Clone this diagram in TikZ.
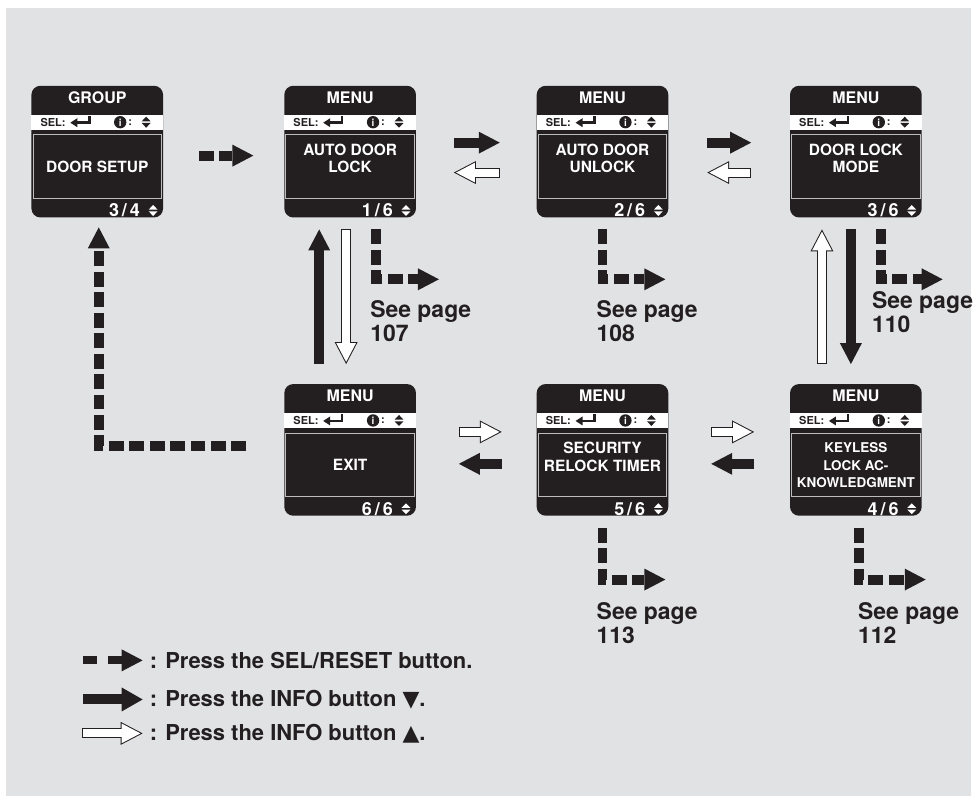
\documentclass[tikz,border=0pt]{standalone}
\usepackage{fontspec}
\setmainfont{TeX Gyre Heros}
\newfontfamily\symfont{DejaVu Sans}
\usetikzlibrary{arrows.meta}
\definecolor{panel}{HTML}{E1E2E4}
\definecolor{ink}{HTML}{231F20}

\begin{document}
\begin{tikzpicture}[
    x=1pt, y=-1pt,
    font=\bfseries,
    screen/.style={fill=ink, rounded corners=9pt, minimum width=132pt, minimum height=132pt, inner sep=0pt, outer sep=0pt},
    titletext/.style={text=white, font=\fontsize{16}{18}\selectfont\bfseries, inner sep=0pt},
    seltext/.style={text=ink, font=\fontsize{11}{12}\selectfont\bfseries, inner sep=0pt},
    infoi/.style={text=white, font=\fontsize{10}{10}\selectfont\bfseries, inner sep=0pt},
    pagetext/.style={text=white, font=\fontsize{18}{20}\selectfont\bfseries, inner sep=0pt},
    bodytext/.style={text=white, align=center, font=\fontsize{15.5}{17.5}\selectfont\bfseries, inner sep=0pt},
    frame/.style={draw=white!70!ink, line width=0.8pt},
    seepage/.style={text=ink, align=left, font=\fontsize{23}{24}\selectfont\bfseries, inner sep=0pt},
    keytext/.style={text=ink, font=\fontsize{22}{22}\selectfont\bfseries, inner sep=0pt},
    gap/.style 2 args={shorten <=#1, shorten >=#2},
    infodn/.style={draw=ink, line width=10pt, -{Triangle[length=21pt, width=22pt, line width=0pt]}},
    infoup/.style 2 args={draw=white, line width=8pt, shorten <=#1+1pt, shorten >=#2+2.2pt,
        -{Triangle[length=18.8pt, width=19.7pt, line width=0pt]},
        preaction={draw=ink, line width=10pt, shorten <=#1, shorten >=#2, -{Triangle[length=22pt, width=23pt, line width=0pt]}}},
    selarrow/.style={draw=ink, line width=10pt, dash pattern=on 15pt off 5.5pt, -{Triangle[length=21pt, width=22pt, line width=0pt]}},
    updn/.pic={
        \fill (-4.5,-0.8) -- (4.5,-0.8) -- (0,-5.5) -- cycle;
        \fill (-4.5,0.8) -- (4.5,0.8) -- (0,5.5) -- cycle;
    }
]

% Background
\fill[white] (0,0) rectangle (973,798);
\fill[panel] (6,8) rectangle (973,798);

% Screens
\node[screen] (group) at (97.5,152) {};
\node[screen] (lock) at (351,152) {};
\node[screen] (unlock) at (604,152) {};
\node[screen] (mode) at (858,152) {};
\node[screen] (exit) at (351,451) {};
\node[screen] (relock) at (604,451) {};
\node[screen] (keyless) at (858,451) {};

% Screen bars
\foreach \nm/\ttl/\pg/\pgs in {group/GROUP/3/4, lock/MENU/1/6, unlock/MENU/2/6, mode/MENU/3/6,
                               keyless/MENU/4/6, relock/MENU/5/6, exit/MENU/6/6} {
    \begin{scope}[shift={(\nm.north west)}]
        \fill[white] (0,29) rectangle (132,44);
        \draw[frame] (1.5,49) rectangle (130.5,112.5);
        \node[titletext] (\nm-title) at (66,12) {\ttl};
        \node[seltext, anchor=west] (\nm-sel) at (9,37) {SEL:};
        \fill[ink] (39,37) -- (46,32.5) -- (46,41.5) -- cycle;
        \draw[ink, line width=2.6pt] (45,37) -| (58,30.5);
        \fill[ink] (89,36.5) circle (6.2);
        \node[infoi] (\nm-info) at (89,36.8) {i};
        \node[seltext] (\nm-colon) at (99,36.5) {:};
        \pic[ink] at (115,36.5) {updn};
        \node[pagetext, anchor=east] (\nm-page) at (109,125) {\pg\,/\,\pgs};
        \pic[white] at (122,125) {updn};
    \end{scope}
}

% Screen texts
\node[bodytext] (group-txt) at ([yshift=-81pt]group.north) {DOOR SETUP};
\node[bodytext] (lock-txt) at ([yshift=-73pt]lock.north) {AUTO DOOR\\LOCK};
\node[bodytext] (unlock-txt) at ([yshift=-73pt]unlock.north) {AUTO DOOR\\UNLOCK};
\node[bodytext] (mode-txt) at ([yshift=-73pt]mode.north) {DOOR LOCK\\MODE};
\node[bodytext, font=\fontsize{13.5}{17.5}\selectfont\bfseries] (keyless-txt) at ([yshift=-81.5pt]keyless.north) {KEYLESS\\LOCK AC-\\KNOWLEDGMENT};
\node[bodytext] (relock-txt) at ([yshift=-73pt]relock.north) {SECURITY\\RELOCK TIMER};
\node[bodytext] (exit-txt) at ([yshift=-81pt]exit.north) {EXIT};

% See page
\node[seepage, anchor=north west] (see107) at (371,301) {See page\\107};
\node[seepage, anchor=north west] (see108) at (598,301) {See page\\108};
\node[seepage, anchor=north west] (see110) at (874,292) {See page\\110};
\node[seepage, anchor=north west] (see113) at (598,604) {See page\\113};
\node[seepage, anchor=north west] (see112) at (860,604) {See page\\112};

\coordinate (p107) at (440,280);
\coordinate (p108) at (667,280);
\coordinate (p110) at (945,280);
\coordinate (p113) at (667,581);
\coordinate (p112) at (928,581);

% SEL/RESET arrows
\draw[selarrow, gap={36pt}{31pt}] ([yshift=-4pt]group.east) -- ([yshift=-4pt]lock.west);
\draw[selarrow] ([xshift=-38pt, yshift=4pt]exit.west) -| ([xshift=1.5pt, yshift=-10pt]group.south);
\draw[selarrow] ([xshift=26pt, yshift=-12pt]lock.south) |- (p107);
\draw[selarrow] ([yshift=-12pt]unlock.south) |- (p108);
\draw[selarrow] ([xshift=25pt, yshift=-12pt]mode.south) |- (p110);
\draw[selarrow] ([yshift=-12pt]relock.south) |- (p113);
\draw[selarrow] ([xshift=3pt, yshift=-12pt]keyless.south) |- (p112);

% INFO arrows
\draw[infodn, gap={38pt}{37pt}] ([yshift=9pt]lock.east) -- ([yshift=9pt]unlock.west);
\draw[infoup={37pt}{38pt}] ([yshift=-21pt]unlock.west) -- ([yshift=-21pt]lock.east);
\draw[infodn, gap={39pt}{39pt}] ([yshift=9pt]unlock.east) -- ([yshift=9pt]mode.west);
\draw[infoup={39pt}{39pt}] ([yshift=-21pt]mode.west) -- ([yshift=-21pt]unlock.east);
\draw[infodn, gap={12pt}{20pt}] ([xshift=-5pt]mode.south) -- ([xshift=-5pt]keyless.north);
\draw[infoup={20pt}{12pt}] ([xshift=-34pt]keyless.north) -- ([xshift=-34pt]mode.south);
\draw[infodn, gap={36pt}{43pt}] ([yshift=-14pt]keyless.west) -- ([yshift=-14pt]relock.east);
\draw[infoup={43pt}{36pt}] ([yshift=18pt]relock.east) -- ([yshift=18pt]keyless.west);
\draw[infodn, gap={35pt}{43pt}] ([yshift=-14pt]relock.west) -- ([yshift=-14pt]exit.east);
\draw[infoup={43pt}{35pt}] ([yshift=18pt]exit.east) -- ([yshift=18pt]relock.west);
\draw[infodn, gap={20pt}{12pt}] ([xshift=-31pt]exit.north) -- ([xshift=-31pt]lock.south);
\draw[infoup={12pt}{20pt}] ([xshift=-4pt]lock.south) -- ([xshift=-4pt]exit.north);

% Legend
\node[keytext, anchor=base west] (key1) at (150,670) {: Press the SEL/RESET button.};
\node[keytext, anchor=base west] (key2) at (150,708) {: Press the INFO button {\symfont ▼}.};
\node[keytext, anchor=base west] (key3) at (150,742) {: Press the INFO button {\symfont ▲}.};
\draw[selarrow, line width=8pt, dash pattern=on 14pt off 11pt on 20pt off 5pt] ([xshift=-67pt]key1.west) -- ([xshift=-7pt]key1.west);
\draw[infodn, -{Triangle[length=21pt, width=24pt, line width=0pt]}] ([xshift=-67pt]key2.west) -- ([xshift=-7pt]key2.west);
\draw[infoup={0pt}{0pt}] ([xshift=-68pt]key3.west) -- ([xshift=-7pt]key3.west);

\end{tikzpicture}
\end{document}
